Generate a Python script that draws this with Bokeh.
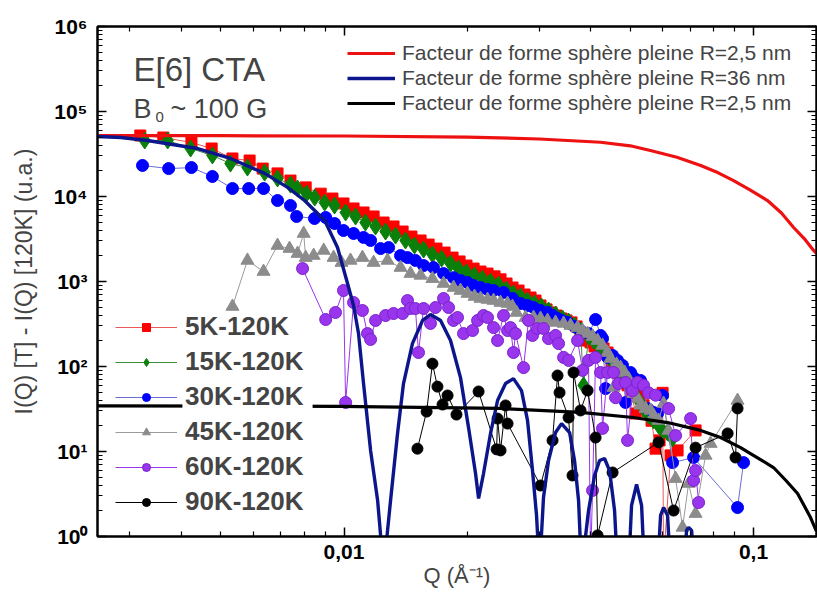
from bokeh.plotting import figure
from bokeh.models import (Range1d, LogAxis, FixedTicker, CustomJSTickFormatter,
                          Label, Legend, LegendItem, BoxAnnotation)
from bokeh.embed import file_html
from bokeh.resources import INLINE

# ---------------- data ----------------
q_5k = [0.00318, 0.00362, 0.00424, 0.00475, 0.00534, 0.00588, 0.00633, 0.00688, 0.00740, 0.00806,
        0.00877, 0.00937, 0.00997, 0.01055, 0.01116, 0.01181, 0.01249, 0.01321, 0.01390, 0.01461,
        0.01538, 0.01609, 0.01682, 0.01760, 0.01841, 0.01915, 0.01991, 0.02072, 0.02154, 0.02241,
        0.02331, 0.02411, 0.02494, 0.02579, 0.02668, 0.02760, 0.02854, 0.02935, 0.03019, 0.03123,
        0.03212, 0.03304, 0.03398, 0.03495, 0.03594, 0.03697, 0.03781, 0.03889, 0.04000, 0.04091,
        0.04208, 0.04303, 0.04401, 0.04501, 0.04604, 0.04709, 0.04816, 0.04925, 0.05037, 0.05152,
        0.05269, 0.05389, 0.05512, 0.05637, 0.05765, 0.05896, 0.05997, 0.0603, 0.06273, 0.06525,
        0.07220]
i_5k = [52200, 49400, 43200, 36700, 28000, 26500, 21300, 18700, 15400, 12800,
        10800, 9460, 8280, 7230, 6490, 5820, 4940, 4440, 3870, 3380,
        3040, 2720, 2440, 2190, 1910, 1720, 1540, 1420, 1310, 1240,
        1150, 1060, 947, 849, 783, 703, 648, 597, 522, 469,
        432, 398, 367, 348, 330, 296, 232, 202, 192, 172,
        154, 163, 146, 111, 103, 85, 72, 60, 49, 28,
        46, 35, 30, 23, 10.8, 13.5, 49, 0.5, 9.0, 10.3,
        17.7]

q_15k = [0.00326, 0.00371, 0.00422, 0.00477, 0.00528, 0.00581, 0.00640, 0.00688, 0.00740, 0.00770,
         0.00810, 0.00848, 0.00897, 0.00948, 0.01009, 0.01067, 0.01128, 0.01194, 0.01263, 0.01336,
         0.01413, 0.01486, 0.01564, 0.01644, 0.01731, 0.01820, 0.01904, 0.01991, 0.02083, 0.02178,
         0.02279, 0.02384, 0.02494, 0.02593, 0.02698, 0.02806, 0.02919, 0.03036, 0.03158, 0.03285,
         0.03417, 0.03535, 0.03655, 0.03781, 0.03845, 0.03955, 0.04068, 0.04184, 0.04303, 0.04426,
         0.04552, 0.04682, 0.04816, 0.04953, 0.05094, 0.05240, 0.05389, 0.05543, 0.05700, 0.05863,
         0.05997, 0.06168, 0.06344]
i_15k = [45600, 45600, 36700, 30400, 24400, 21900, 19100, 16300, 13800, 12400,
         10800, 9720, 8490, 7840, 6490, 5820, 4940, 4440, 3870, 3470,
         3040, 2650, 2380, 2080, 1860, 1630, 1420, 1280, 1180, 1080,
         1000, 922, 805, 722, 666, 597, 551, 508, 456, 409,
         367, 338, 303, 265, 60, 225, 202, 177, 154, 131,
         111, 95, 78, 65, 52, 40, 32, 26.5, 23.2, 20.2,
         17.7, 16.7, 14.2]

q_30k = [0.00322, 0.00373, 0.00424, 0.00477, 0.00534, 0.00585, 0.00636, 0.00688, 0.00740, 0.00766,
         0.00847, 0.00902, 0.00948, 0.00997, 0.01055, 0.01116, 0.01161, 0.01228, 0.01285, 0.01374,
         0.01429, 0.01494, 0.01564, 0.01654, 0.01750, 0.01851, 0.01925, 0.02002, 0.02072, 0.02154,
         0.02241, 0.02318, 0.02452, 0.02579, 0.02698, 0.02806, 0.02903, 0.03019, 0.03140, 0.03230,
         0.03322, 0.03398, 0.03515, 0.03655, 0.03781, 0.03955, 0.04114, 0.04231, 0.04279, 0.04352,
         0.04401, 0.04527, 0.04656, 0.04788, 0.04870, 0.05009, 0.05094, 0.05299, 0.05512, 0.05700,
         0.05830, 0.05997, 0.06344, 0.07140, 0.09141, 0.09456]
i_30k = [23200, 21300, 21900, 17200, 12400, 12400, 12400, 8970, 7840, 5820,
         5510, 5660, 4810, 3980, 3670, 3300, 3040, 2440, 2510, 2020,
         1910, 1770, 1540, 1460, 1240, 1110, 1030, 973, 897, 849,
         805, 783, 743, 631, 551, 522, 494, 456, 432, 398,
         367, 348, 330, 296, 265, 244, 357, 232, 213, 55,
         128, 135, 118, 103, 37.7, 85, 74, 68.4, 32, 28.8,
         28, 45.6, 7.4, 8.5, 2.19, 7.4]

q_45k = [0.00534, 0.00581, 0.00636, 0.00688, 0.00736, 0.00770, 0.00797, 0.00806, 0.00843, 0.00892,
         0.00943, 0.00986, 0.01037, 0.01109, 0.01181, 0.01277, 0.01374, 0.01453, 0.01538, 0.01644,
         0.01750, 0.01851, 0.01925, 0.02002, 0.02083, 0.02154, 0.02241, 0.02318, 0.02411, 0.02508,
         0.02579, 0.02637, 0.02775, 0.02903, 0.03019, 0.03140, 0.03285, 0.03437, 0.03574, 0.03718,
         0.03824, 0.03933, 0.04045, 0.04161, 0.04279, 0.04401, 0.04476, 0.04552, 0.04630, 0.04735,
         0.04843, 0.04953, 0.05094, 0.05210, 0.05299, 0.05450, 0.05605, 0.05700, 0.05863, 0.06031,
         0.06203, 0.06452, 0.06711, 0.06942, 0.07220, 0.07637, 0.07856, 0.09141]
i_45k = [508, 1770, 1310, 2650, 2440, 2130, 3670, 1910, 2020, 2320,
         1910, 1670, 1770, 1910, 1670, 1770, 1460, 1240, 1180, 1080,
         947, 849, 783, 722, 666, 631, 614, 597, 566, 551,
         508, 432, 377, 377, 367, 348, 330, 321, 303, 287,
         265, 244, 225, 202, 177, 146, 124, 56.6, 106, 97,
         85, 72, 48, 42, 35, 32, 30.4, 26.5, 23.2, 36.7,
         17.7, 4.8, 1.28, 4.2, 1.86, 9.0, 12.4, 39.8]

q_60k = [0.00792, 0.00902, 0.00953, 0.00997, 0.01009, 0.01055, 0.01109, 0.01141, 0.01161, 0.01194,
         0.01263, 0.01321, 0.01390, 0.01429, 0.01453, 0.01494, 0.01520, 0.01564, 0.01626, 0.01672,
         0.01750, 0.01800, 0.01851, 0.01893, 0.01958, 0.02060, 0.02119, 0.02191, 0.02241, 0.02318,
         0.02371, 0.02452, 0.02508, 0.02550, 0.02593, 0.02623, 0.02744, 0.02822, 0.02886, 0.02969,
         0.03070, 0.03158, 0.03285, 0.03341, 0.03437, 0.03535, 0.03718, 0.03824, 0.03955, 0.04000,
         0.04045, 0.04114, 0.04231, 0.04279, 0.04401, 0.04552, 0.04604, 0.04682, 0.04870, 0.04925,
         0.05065, 0.05210, 0.05389, 0.05543, 0.05765, 0.06203, 0.06452, 0.07020, 0.07140, 0.07220,
         0.07344]
i_60k = [1420, 357, 432, 783, 37.7, 566, 456, 244, 208, 348,
         398, 420, 420, 597, 481, 481, 146, 481, 321, 494,
         631, 494, 348, 377, 244, 265, 348, 398, 377, 287,
         202, 398, 265, 287, 146, 244, 97, 348, 232, 280,
         280, 213, 232, 186, 128, 118, 202, 90, 118, 0.5,
         3.48, 128, 85, 18.7, 85, 85, 43, 63, 65, 13.5,
         52, 65, 60, 49, 46, 32, 15.4, 24.4, 4.56, 5.97,
         2.51]

q_90k = [0.01511, 0.01591, 0.01644, 0.01691, 0.01740, 0.01790, 0.01882, 0.02131, 0.02358, 0.02371,
         0.02411, 0.02480, 0.02508, 0.03019, 0.03230, 0.03322, 0.03360, 0.03535, 0.03614, 0.03635,
         0.03781, 0.03933, 0.04114, 0.04161, 0.04527, 0.05863, 0.06380, 0.07220, 0.08645, 0.09038,
         0.09141]
i_90k = [10.8, 29.5, 108, 58, 35.7, 45.6, 27.2, 50.8, 10.6, 24.4,
         10.3, 34.8, 21.3, 3.98, 13.5, 78.3, 49.4, 25.1, 5.22, 85,
         30.4, 52.2, 14.6, 1.03, 5.66, 12.8, 2.02, 11.1, 16.3, 8.5,
         32.1]

# form-factor curves
q_ff_red = [0.0025, 0.005, 0.01, 0.02, 0.03, 0.0423, 0.05, 0.056, 0.065, 0.0743, 0.082,
            0.0894, 0.098, 0.1082, 0.117, 0.1253, 0.133, 0.1402, 0.1425]
i_ff_red = [52000, 51900, 51500, 50000, 47500, 43500, 39500, 34800, 29000, 23200, 19000,
            15400, 12000, 8970, 6400, 4320, 3200, 2320, 2150]

q_ff_blue = [0.00250, 0.00285, 0.00331, 0.00381, 0.00439, 0.00528, 0.00640, 0.00728, 0.00801, 0.00897,
             0.00964, 0.01020, 0.01055, 0.01085, 0.01116, 0.01161, 0.01208, 0.01249, 0.01299, 0.01351,
             0.01397, 0.01469, 0.01555, 0.01626, 0.01721, 0.01820, 0.01925, 0.02014, 0.02095, 0.02131,
             0.02191, 0.02279, 0.02371, 0.02480, 0.02593, 0.02713, 0.02806, 0.02886, 0.02952, 0.03002,
             0.03070, 0.03158, 0.03285, 0.03398, 0.03555, 0.03655, 0.03739, 0.03802, 0.03955, 0.04091,
             0.04208, 0.04327, 0.04451, 0.04578, 0.04656, 0.04953, 0.05037, 0.05181, 0.05329, 0.05420,
             0.05830, 0.05930, 0.06031, 0.06168, 0.06273, 0.06749, 0.06864, 0.06942, 0.07060, 0.07180]
i_ff_blue = [50800, 49400, 45600, 40900, 36700, 28000, 18700, 12800, 8970, 5220,
             2510, 947, 522, 244, 63, 10.3, 2.65, 0.4, 2.65, 16.3,
             63, 186, 348, 409, 348, 202, 74, 19.1, 5.5, 2.8,
             5.5, 16.3, 39.8, 63, 72, 52, 23.2, 5.97, 1.77, 0.4,
             2.88, 7.83, 16.7, 21.3, 16.7, 7.83, 2.65, 0.4, 2.02, 5.22,
             7.83, 8.27, 5.97, 2.02, 0.4, 0.4, 2.32, 4.09, 2.32, 0.4,
             0.4, 1.77, 2.19, 1.77, 0.4, 0.4, 1.18, 1.28, 1.18, 0.4]

q_ff_black = [0.0025, 0.0098, 0.0241, 0.0378, 0.0509, 0.0617, 0.0743, 0.0831, 0.0930, 0.0983,
              0.105, 0.1119, 0.120, 0.1281, 0.133, 0.1378, 0.1425]
i_ff_black = [34.5, 34.0, 32.1, 28.8, 25.1, 21.9, 17.7, 14.6, 11.1, 9.47,
              7.83, 6.48, 4.56, 3.2, 2.3, 1.67, 1.15]

series_labels = ["5K-120K", "15K-120K", "30K-120K", "45K-120K", "60K-120K", "90K-120K"]
ff_labels = ["Facteur de forme sphère pleine R=2,5 nm",
             "Facteur de forme sphère pleine R=36 nm",
             "Facteur de forme sphère pleine R=2,5 nm"]
y_major_ticks = [1, 10, 100, 1e3, 1e4, 1e5, 1e6]
x_major_ticks = [0.01, 0.1]

FONT = "Liberation Sans"

p = figure(width=817, height=596, x_axis_type="log", y_axis_type="log",
           x_range=Range1d(0.0025, 0.1425), y_range=Range1d(1, 1e6),
           output_backend="svg", toolbar_location=None,
           min_border_left=97, min_border_right=1, min_border_top=26, min_border_bottom=60)
p.grid.visible = False
p.outline_line_color = "black"
p.outline_line_width = 2
p.background_fill_color = "white"
p.border_fill_color = "white"

y_minor = [k * 10 ** n for n in range(0, 6) for k in range(2, 10)]
x_minor = [k * 0.001 for k in range(3, 10)] + [k * 0.01 for k in range(2, 10)]

sup_fmt = CustomJSTickFormatter(code="""
const s = {'0':'\u2070','1':'\u00b9','2':'\u00b2','3':'\u00b3','4':'\u2074','5':'\u2075','6':'\u2076','7':'\u2077','8':'\u2078','9':'\u2079','-':'\u207b'};
const e = Math.round(Math.log10(tick));
return '10' + String(e).split('').map(c => s[c]).join('');
""")
x_fmt = CustomJSTickFormatter(code="return tick < 0.05 ? '0,01' : '0,1';")
blank_fmt = CustomJSTickFormatter(code="return '';")


def style_axis(ax):
    ax.axis_line_width = 2
    ax.axis_line_color = "black"
    ax.major_tick_in = 9
    ax.major_tick_out = 0
    ax.minor_tick_in = 5
    ax.minor_tick_out = 0
    ax.major_tick_line_width = 1.5
    ax.minor_tick_line_width = 1.2
    ax.major_label_text_font = FONT
    ax.major_label_text_font_style = "bold"
    ax.major_label_text_font_size = "21px"
    ax.major_label_text_color = "black"


xa = p.xaxis[0]
xa.ticker = FixedTicker(ticks=x_major_ticks, minor_ticks=x_minor)
xa.formatter = x_fmt
style_axis(xa)
xa.major_label_standoff = 8
xa.axis_label = "Q (Å\u207b\u00b9)"
xa.axis_label_text_font = FONT
xa.axis_label_text_font_style = "normal"
xa.axis_label_text_font_size = "22px"
xa.axis_label_standoff = 1

ya = p.yaxis[0]
ya.ticker = FixedTicker(ticks=y_major_ticks, minor_ticks=y_minor)
ya.formatter = sup_fmt
style_axis(ya)
ya.major_label_standoff = 10
ya.axis_label = "I(Q) [T] - I(Q) [120K] (u.a.)"
ya.axis_label_text_font = FONT
ya.axis_label_text_font_style = "normal"
ya.axis_label_text_font_size = "23px"
ya.axis_label_standoff = 14

top = LogAxis(ticker=FixedTicker(ticks=x_major_ticks, minor_ticks=x_minor), formatter=blank_fmt)
style_axis(top)
top.major_label_text_font_size = "0px"
top.major_label_standoff = 0
p.add_layout(top, "above")

right = LogAxis(ticker=FixedTicker(ticks=y_major_ticks, minor_ticks=y_minor), formatter=blank_fmt)
style_axis(right)
right.major_label_text_font_size = "0px"
right.major_label_standoff = 0
p.add_layout(right, "right")

# ---------------- data series ----------------
specs = [
    (q_5k, i_5k, "square", "#ff0000", "#ff0000", "#e85a5a", 11),
    (q_15k, i_15k, "diamond", "#0a800a", "#0a800a", "#3c8c3c", 17),
    (q_30k, i_30k, "circle", "#0000ff", "#0000ff", "#6b6bd6", 12),
    (q_45k, i_45k, "triangle", "#8c8c8c", "#8c8c8c", "#9a9a9a", 13),
    (q_60k, i_60k, "circle", "#9a35ee", "#7a22cc", "#9a35ee", 12),
    (q_90k, i_90k, "circle", "#000000", "#000000", "#000000", 11),
]
data_items = []
for (q, i, mk, fc, lc, linec, sz), lab in zip(specs, series_labels):
    lr = p.line(q, i, line_color=linec, line_width=1)
    sr = p.scatter(q, i, marker=mk, size=sz, fill_color=fc, line_color=lc, line_width=1)
    data_items.append(LegendItem(label=lab, renderers=[lr, sr]))

r_red = p.line(q_ff_red, i_ff_red, line_color="#ee1111", line_width=3.2)
r_blue = p.line(q_ff_blue, i_ff_blue, line_color="#0c168c", line_width=3.4)
r_black = p.line(q_ff_black, i_ff_black, line_color="black", line_width=3.2)

leg_top = Legend(items=[LegendItem(label=ff_labels[0], renderers=[r_red]),
                        LegendItem(label=ff_labels[1], renderers=[r_blue]),
                        LegendItem(label=ff_labels[2], renderers=[r_black])],
                 location=(250, 421), glyph_width=48, glyph_height=20, label_height=20,
                 label_standoff=7, spacing=1, padding=3, margin=0,
                 label_text_font=FONT, label_text_font_size="21px",
                 border_line_color=None, background_fill_alpha=0)
p.add_layout(leg_top, "center")

# white backing behind the legend texts only (the glyph column stays transparent)
p.add_layout(BoxAnnotation(left=0.00403, right=0.00838, bottom=1.77, top=432,
                           fill_color="white", fill_alpha=1, line_color=None))

leg_bot = Legend(items=data_items, location=(18, 19), glyph_width=62, glyph_height=20,
                 label_height=20, label_standoff=8, spacing=4, padding=3, margin=0,
                 label_text_font=FONT, label_text_font_size="26px", label_text_font_style="bold",
                 border_line_color=None, background_fill_alpha=0)
p.add_layout(leg_bot, "center")

# ---------------- annotations ----------------
p.add_layout(Label(x=36, y=467, x_units="screen", y_units="screen", text="E[6] CTA",
                   text_font=FONT, text_font_size="33px", text_baseline="alphabetic"))
p.add_layout(Label(x=36, y=428, x_units="screen", y_units="screen", text="B",
                   text_font=FONT, text_font_size="27px", text_baseline="alphabetic"))
p.add_layout(Label(x=58, y=420, x_units="screen", y_units="screen", text="0",
                   text_font=FONT, text_font_size="15px", text_baseline="alphabetic"))
p.add_layout(Label(x=73, y=428, x_units="screen", y_units="screen", text="~ 100 G",
                   text_font=FONT, text_font_size="27px", text_baseline="alphabetic"))

open("out.html", "w").write(file_html(p, INLINE))
